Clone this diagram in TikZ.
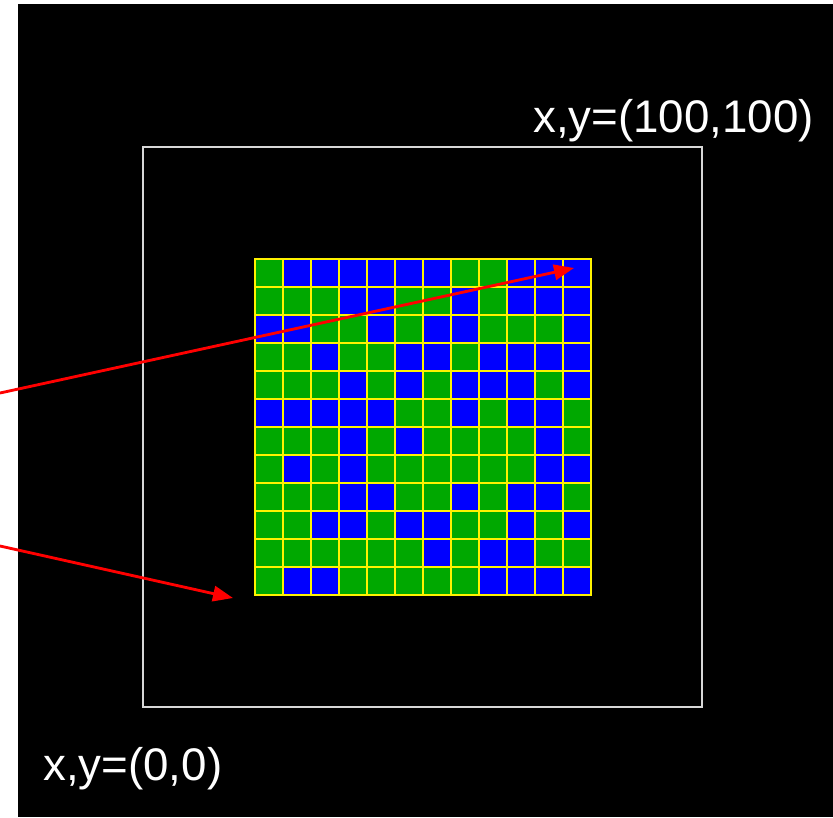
\documentclass[tikz,border=0pt]{standalone}
\usepackage{fontspec}
\setmainfont{Liberation Sans}
\usepackage{tikz}
\usepackage{xcolor}
\usetikzlibrary{arrows.meta,positioning}
\definecolor{cellG}{RGB}{0,168,0}
\definecolor{cellB}{RGB}{0,0,255}
\definecolor{frameC}{RGB}{215,215,215}

\begin{document}
\begin{tikzpicture}[x=0.3mm, y=-0.3mm,
    cell/.style={draw=yellow, line width=0.45mm},
    pointer/.style={-{Triangle[length=6mm, width=4.6mm]}, red, line width=0.85mm},
    corner/.style={white, inner sep=0pt, font=\fontsize{39}{46}\selectfont}]
  \useasboundingbox (0,0) rectangle (833,817);
  \fill[black] (18,4) rectangle (833,817);
  % outer domain
  \draw[frameC, line width=0.6mm] (143,147) rectangle (702,707);
  % cells, row by row from the top
  \foreach \row [count=\r from 0] in {
      {G,B,B,B,B,B,B,G,G,B,B,B},
      {G,G,G,B,B,G,G,B,G,B,B,B},
      {B,B,G,G,B,G,B,B,G,G,G,B},
      {G,G,B,G,G,B,B,G,B,B,B,B},
      {G,G,G,B,G,B,G,B,B,B,G,B},
      {B,B,B,B,B,G,G,B,G,B,B,G},
      {G,G,G,B,G,B,G,G,G,G,B,G},
      {G,B,G,B,G,G,G,G,G,G,B,B},
      {G,G,G,B,B,G,G,B,G,B,B,G},
      {G,G,B,B,G,B,B,G,G,B,G,B},
      {G,G,G,G,G,G,B,G,B,B,G,G},
      {G,B,B,G,G,G,G,G,B,B,B,B}} {
    \foreach \v [count=\c from 0] in \row
      \filldraw[cell, fill=cell\v] (255+28*\c,259+28*\r) rectangle ++(28,28);
  }
  % labels
  \node[corner, anchor=base west] (lblmax) at (533,132) {x,y=(100,100)};
  \node[corner, anchor=base west] (lblmin) at (43,780) {x,y=(0,0)};
  % pointers
  \coordinate (srcA) at (0,393);
  \coordinate (srcB) at (0,546);
  \coordinate (tipA) at (574,268);
  \coordinate (tipB) at (233,598);
  \draw[pointer] (srcA) -- (tipA);
  \draw[pointer] (srcB) -- (tipB);
\end{tikzpicture}
\end{document}
